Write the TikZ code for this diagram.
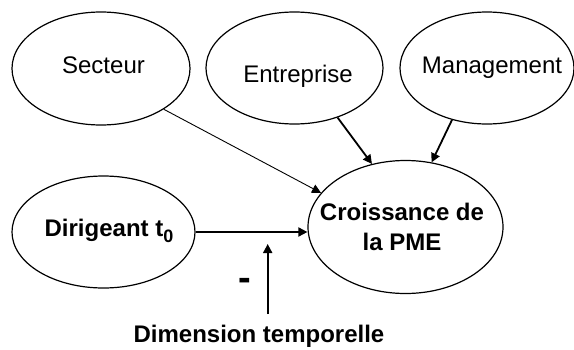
\documentclass[tikz,border=0pt]{standalone}
\usepackage{fontspec}
\setmainfont{Liberation Sans}
\usepackage{tikz}
\usetikzlibrary{shapes.geometric}
\usetikzlibrary{arrows.meta}

\begin{document}
\begin{tikzpicture}[
  x=0.5pt, y=-0.5pt,
  font=\fontsize{12}{14.75}\selectfont,
  oval/.style={ellipse, draw, line width=0.6pt, inner sep=0pt},
  txt/.style={inner sep=0pt, align=center},
  bold txt/.style={txt, font=\fontsize{12}{14.75}\selectfont\bfseries},
  link/.style={-{Triangle[length=4.5pt,width=4.5pt]}, line width=0.9pt},
  thin link/.style={link, line width=0.45pt}
]
\useasboundingbox (0,0) rectangle (574,349);

\node [oval, minimum width=89pt, minimum height=56.5pt,
  label={[txt, xshift=1.25pt, yshift=1.5pt]center:Secteur}] (sec) at (101,68.5) {};
\node [oval, minimum width=88.5pt, minimum height=56pt,
  label={[txt, xshift=1.75pt, yshift=-4pt]center:Entreprise}] (ent) at (294.5,68) {};
\node [oval, minimum width=87pt, minimum height=56pt,
  label={[txt, xshift=2.5pt]center:Management}] (man) at (487,68) {};
\node [oval, minimum width=91.5pt, minimum height=56pt,
  label={[bold txt, xshift=2.75pt, yshift=0.8pt]center:Dirigeant t\raisebox{-3pt}{\fontsize{9}{9}\selectfont 0}}] (dir) at (103.5,232) {};
\node [oval, minimum width=97.5pt, minimum height=66.5pt,
  label={[bold txt, xshift=-1.75pt]center:Croissance de\\la PME}] (cro) at (405.5,227) {};

\node [bold txt] (dim) at (259,336) {Dimension temporelle};
\node [txt, font=\fontsize{19}{20}\selectfont\bfseries] (neg) at (245,284) {-};

\coordinate (modsrc) at (267.7,314);
\coordinate (mod) at (267.7,244);

\draw [thin link] (sec.-33) -- (cro.158);
\draw [link] (ent.-49) -- (cro.118);
\draw [link] (man.236) -- (cro.68);
\draw [link] (dir.east) -- (dir.east -| cro.west);
\draw [link] (modsrc) -- (mod);

\end{tikzpicture}
\end{document}
